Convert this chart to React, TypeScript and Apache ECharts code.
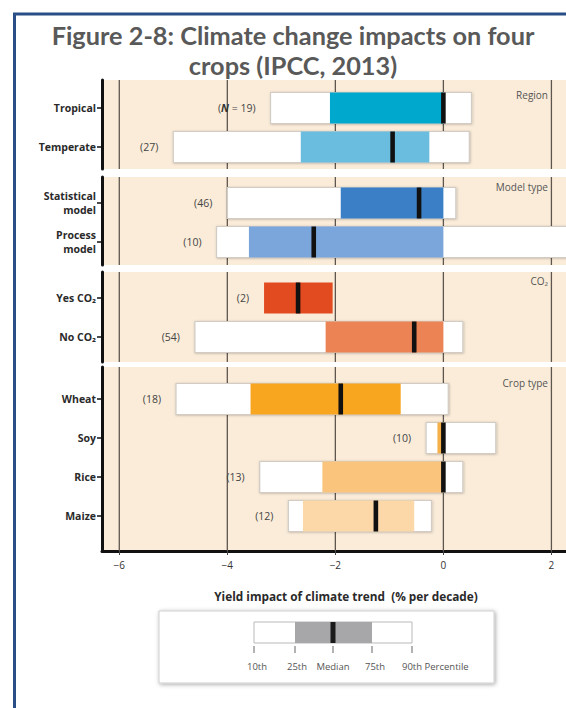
import React, { useEffect, useRef } from 'react';
import * as echarts from 'echarts';

// ---------- data ----------
const panelNames = ['Region', 'Model type', 'CO₂', 'Crop type'];
const rowLabels = ['Tropical', 'Temperate', 'Statistical\nmodel', 'Process\nmodel', 'Yes CO₂', 'No CO₂', 'Wheat', 'Soy', 'Rice', 'Maize'];
const rowPanel = [0, 0, 1, 1, 2, 2, 3, 3, 3, 3];
const sampleSizes = [19, 27, 46, 10, 2, 54, 18, 10, 13, 12];
const p10 = [-3.2, -5.0, -4.0, -4.2, null, -4.6, -4.95, -0.32, -3.4, -2.87];
const p25 = [-2.1, -2.64, -1.9, -3.6, -3.32, -2.18, -3.57, -0.11, -2.24, -2.6];
const median = [0, -0.94, -0.45, -2.4, -2.69, -0.54, -1.9, 0, 0, -1.25];
const p75 = [0, -0.26, 0, 0, -2.05, 0, -0.79, 0, 0, -0.54];
const p90 = [0.52, 0.48, 0.23, 2.6, null, 0.36, 0.09, 0.97, 0.36, -0.22];
const boxColors = ['#00a8cd', '#6bbde0', '#3b80c6', '#7ba6db', '#e24b1f', '#ec8354', '#f8a51f', '#f5b04a', '#fbc47c', '#fcd8a8'];
const xTicks = [-6, -4, -2, 0, 2];
const legendLabels = ['10th', '25th', 'Median', '75th', '90th Percentile'];

// ---------- layout ----------
const W = 566;
const H = 708;
const GRID_LEFT = 102;
const X_MIN = -6.32;
const X_MAX = 2.27;
const ROW_GAP = 39;
const panels = [
  { top: 80, bottom: 169, first: 108, headerY: 95 },
  { top: 177, bottom: 265, first: 203, headerY: 187 },
  { top: 272, bottom: 362, first: 298, headerY: 281 },
  { top: 367, bottom: 551, first: 399, headerY: 383 },
];
const FONT = '"Open Sans", "Noto Sans", sans-serif';
const TITLE_FONT = 'Lato, "Open Sans", sans-serif';

export default function App() {
  const ref = useRef<HTMLDivElement>(null);

  useEffect(() => {
    if (!ref.current) return;
    const chart = echarts.init(ref.current, undefined, { renderer: 'svg' });

    const grids: any[] = [];
    const xAxes: any[] = [];
    const yAxes: any[] = [];
    const series: any[] = [];

    panels.forEach((p, pi) => {
      const rows = rowPanel.map((pp, g) => (pp === pi ? g : -1)).filter((g) => g >= 0);
      const yMin = -(p.first - p.top) / ROW_GAP;
      const yMax = yMin + (p.bottom - p.top) / ROW_GAP;
      const isLast = pi === panels.length - 1;
      const rowVals = rows.map((_, k) => k);

      grids.push({
        left: GRID_LEFT,
        right: 0,
        top: p.top,
        height: p.bottom - p.top,
        show: true,
        backgroundColor: '#faecd9',
        borderWidth: 0,
      });
      xAxes.push({
        type: 'value',
        gridIndex: pi,
        min: X_MIN,
        max: X_MAX,
        splitLine: { show: false },
        axisLine: { show: isLast, onZero: false, lineStyle: { color: '#111', width: 3 } },
        axisTick: {
          show: isLast,
          customValues: xTicks,
          length: 4,
          lineStyle: { color: '#444', width: 1 },
        },
        axisLabel: {
          show: isLast,
          customValues: xTicks,
          margin: 9,
          fontSize: 10,
          fontFamily: FONT,
          color: '#333',
          formatter: (v: number) => (v < 0 ? '−' + Math.abs(v) : String(v)),
        },
      });
      yAxes.push({
        type: 'value',
        gridIndex: pi,
        inverse: true,
        min: yMin,
        max: yMax,
        splitLine: { show: false },
        axisLine: { show: true, onZero: false, lineStyle: { color: '#111', width: 3 } },
        axisTick: {
          show: true,
          customValues: rowVals,
          length: 5,
          lineStyle: { color: '#111', width: 1.5 },
        },
        axisLabel: {
          show: true,
          customValues: rowVals,
          margin: 6,
          fontSize: 10.5,
          fontWeight: 'bold',
          fontFamily: FONT,
          color: '#2a2a2a',
          lineHeight: 14,
          align: 'right',
          formatter: (v: number) => rowLabels[rows[Math.round(v)]] ?? '',
        },
      });

      // vertical grid lines
      series.push({
        type: 'custom',
        xAxisIndex: pi,
        yAxisIndex: pi,
        z: 1,
        silent: true,
        data: xTicks.map((v) => [v, 0]),
        encode: { x: 0, y: 1 },
        renderItem: (params: any, api: any) => {
          const x = api.coord([api.value(0), 0])[0];
          const cs = params.coordSys;
          return {
            type: 'line',
            shape: { x1: x, y1: cs.y, x2: x, y2: cs.y + cs.height },
            style: { stroke: '#5f574f', lineWidth: 1.3 },
          };
        },
      });

      // boxes
      series.push({
        type: 'custom',
        xAxisIndex: pi,
        yAxisIndex: pi,
        z: 3,
        silent: true,
        data: rows.map((g, k) => [p25[g], p75[g], k, g]),
        encode: { x: [0, 1], y: 2 },
        renderItem: (params: any, api: any) => {
          const k = api.value(2);
          const g = api.value(3);
          const h = api.size([0, 1])[1] * 0.795;
          const cy = api.coord([0, k])[1];
          const y0 = cy - h / 2;
          const X = (v: number) => api.coord([v, k])[0];
          const lo = p10[g] ?? p25[g];
          const hi = p90[g] ?? p75[g];
          const children: any[] = [];
          if (p10[g] != null) {
            children.push({
              type: 'rect',
              shape: { x: X(lo), y: y0, width: X(hi) - X(lo), height: h },
              style: {
                fill: '#ffffff',
                stroke: '#d2ccc5',
                lineWidth: 1.2,
                shadowBlur: 2,
                shadowColor: 'rgba(0,0,0,0.25)',
                shadowOffsetX: 0.5,
                shadowOffsetY: 0.5,
              },
            });
          }
          children.push({
            type: 'rect',
            shape: { x: X(p25[g]), y: y0, width: X(p75[g]) - X(p25[g]), height: h },
            style: { fill: boxColors[g] },
          });
          const mx = X(median[g]);
          children.push({
            type: 'rect',
            shape: { x: mx - 2.3, y: y0, width: 4.6, height: h },
            style: { fill: '#111111' },
          });
          const isFirst = g === 0;
          children.push({
            type: 'text',
            style: {
              text: isFirst ? '({n|N} = ' + sampleSizes[g] + ')' : '(' + sampleSizes[g] + ')',
              x: X(lo) - 15,
              y: cy,
              align: 'right',
              verticalAlign: 'middle',
              fill: '#444',
              fontSize: 10.5,
              fontFamily: FONT,
              rich: {
                n: { fontStyle: 'italic', fontWeight: 'bold', fontSize: 10.5, fontFamily: FONT, fill: '#333' },
              },
            },
          });
          return { type: 'group', children };
        },
      });
    });

    // legend geometry
    const lgX = [254, 295, 333, 372, 412];
    const lgLabelX = [257, 297, 333, 375, 402];
    const legendGraphics: any[] = [
      {
        type: 'rect',
        shape: { x: 159, y: 611, width: 335, height: 72 },
        style: { fill: '#fff', stroke: '#cfcfcf', lineWidth: 1, shadowBlur: 4, shadowColor: 'rgba(0,0,0,0.35)', shadowOffsetX: 1, shadowOffsetY: 1 },
      },
      {
        type: 'rect',
        shape: { x: lgX[0], y: 622, width: lgX[4] - lgX[0], height: 21 },
        style: { fill: '#fff', stroke: '#b9b9b9', lineWidth: 1 },
      },
      {
        type: 'rect',
        shape: { x: lgX[1], y: 622, width: lgX[3] - lgX[1], height: 21 },
        style: { fill: '#a7a7aa' },
      },
      {
        type: 'rect',
        shape: { x: lgX[2] - 2.5, y: 622, width: 5, height: 21 },
        style: { fill: '#1a1a1a' },
      },
      ...lgX.map((x) => ({
        type: 'line',
        shape: { x1: x, y1: 646, x2: x, y2: 653 },
        style: { stroke: '#666', lineWidth: 1 },
      })),
      ...legendLabels.map((t, i) => ({
        type: 'text',
        x: lgLabelX[i],
        y: 666,
        style: {
          text: t,
          fill: '#555',
          fontSize: 9.5,
          fontFamily: FONT,
          align: i === 4 ? 'left' : 'center',
          verticalAlign: 'middle',
        },
      })),
    ];

    chart.setOption({
      animation: false,
      backgroundColor: '#ffffff',
      grid: grids,
      xAxis: xAxes,
      yAxis: yAxes,
      series,
      graphic: [
        {
          type: 'rect',
          z: 100,
          shape: { x: 14.5, y: 14, width: 700, height: 800 },
          style: { fill: 'none', stroke: '#2a4e86', lineWidth: 3 },
        },
        {
          type: 'text',
          x: 293,
          y: 35,
          style: {
            text: 'Figure 2-8: Climate change impacts on four',
            fill: '#595959',
            fontSize: 25.3,
            fontWeight: 'bold',
            fontFamily: TITLE_FONT,
            align: 'center',
            verticalAlign: 'middle',
          },
        },
        {
          type: 'text',
          x: 293,
          y: 65,
          style: {
            text: 'crops (IPCC, 2013)',
            fill: '#595959',
            fontSize: 25.3,
            fontWeight: 'bold',
            fontFamily: TITLE_FONT,
            align: 'center',
            verticalAlign: 'middle',
          },
        },
        ...panels.map((p, i) => ({
          type: 'text',
          z: 50,
          x: 548,
          y: p.headerY,
          style: {
            text: panelNames[i],
            fill: '#555',
            fontSize: 10,
            fontFamily: FONT,
            align: 'right',
            verticalAlign: 'middle',
          },
        })),
        {
          type: 'text',
          x: 346,
          y: 596,
          style: {
            text: 'Yield impact of climate trend  (% per decade)',
            fill: '#2a2a2a',
            fontSize: 11.8,
            fontWeight: 'bold',
            fontFamily: FONT,
            align: 'center',
            verticalAlign: 'middle',
          },
        },
        ...legendGraphics,
      ],
    });

    return () => chart.dispose();
  }, []);

  return (
    <div
      ref={ref}
      style={{ position: 'fixed', left: 0, top: 0, width: W, height: H, background: '#fff' }}
    />
  );
}
